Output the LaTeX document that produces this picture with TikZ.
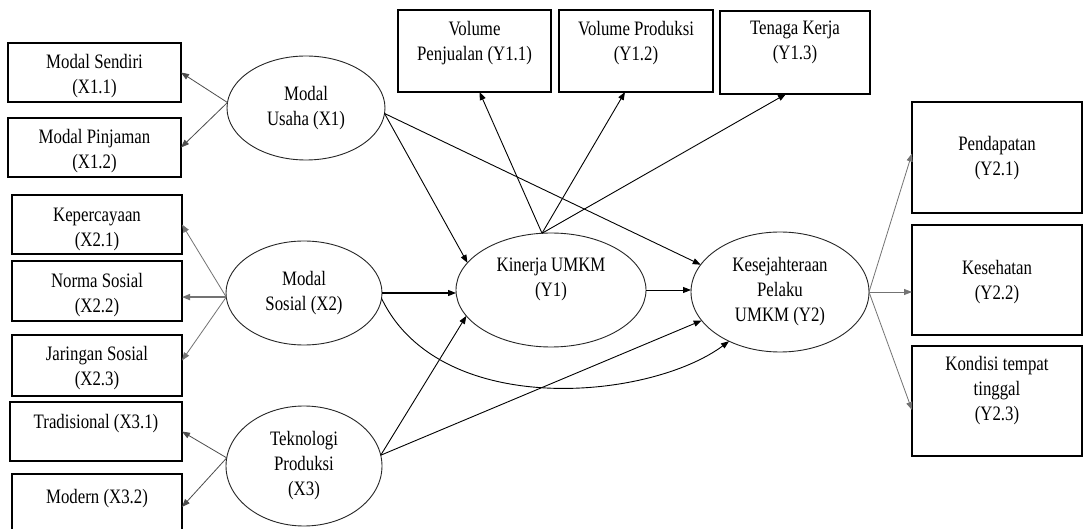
\documentclass[tikz,border=0pt]{standalone}
\usepackage{fontspec}
\setmainfont[FakeStretch=0.82]{Liberation Serif}
\usetikzlibrary{arrows.meta,shapes.geometric}
\newcommand\fsz{\fontsize{20.5}{25}\selectfont}
\newcommand\bxt[4]{\parbox[c][#1pt][t]{#2pt}{\centering\vspace*{#3pt}#4\par}}
\begin{document}
\begin{tikzpicture}[x=1pt,y=-1pt,
  ibox/.style={draw=black, line width=1.3pt, inner sep=0pt, outer sep=0pt, font=\fsz},
  lat/.style={ellipse, draw=black!85, line width=0.9pt, inner sep=0pt, outer sep=0pt, align=center, font=\fsz},
  pth/.style={-{Triangle[length=8pt,width=6pt]}, line width=0.9pt, black},
  ind/.style={-{Triangle[length=8pt,width=6pt]}, line width=0.8pt, black!70},
  indg/.style={-{Triangle[length=8pt,width=6pt]}, line width=0.8pt, black!55}]
\clip (0,0) rectangle (1088,529);
\fill[white] (0,0) rectangle (1088,529);
% indicator boxes
\node[ibox] (MS) at (94.5,72.5) {\bxt{59}{173}{11}{Modal Sendiri\\(X1.1)}};
\node[ibox] (MP) at (94.5,147.5) {\bxt{59}{173}{11}{Modal Pinjaman\\(X1.2)}};
\node[ibox] (KP) at (97,224.5) {\bxt{59}{170}{13}{Kepercayaan\\(X2.1)}};
\node[ibox] (NS) at (97,291) {\bxt{60}{170}{12}{Norma Sosial\\(X2.2)}};
\node[ibox] (JS) at (97,365.5) {\bxt{61}{170}{11}{Jaringan Sosial\\(X2.3)}};
\node[ibox] (TR) at (96,431.5) {\bxt{59}{172}{12}{Tradisional (X3.1)}};
\node[ibox] (MD) at (97,507) {\bxt{66}{170}{15}{Modern (X3.2)}};
\node[ibox] (VPj) at (474.5,51) {\bxt{82}{153}{11}{Volume\\Penjualan (Y1.1)}};
\node[ibox] (VPr) at (636,51) {\bxt{82}{154}{11}{Volume Produksi\\(Y1.2)}};
\node[ibox] (TK) at (795,52.5) {\bxt{83}{150}{10}{Tenaga Kerja\\(Y1.3)}};
\node[ibox] (PD) at (997,157.5) {\bxt{111}{170}{34}{Pendapatan\\(Y2.1)}};
\node[ibox] (KS) at (997,280) {\bxt{110}{170}{35}{Kesehatan\\(Y2.2)}};
\node[ibox] (KT) at (997,401) {\bxt{110}{170}{10}{Kondisi tempat\\tinggal\\(Y2.3)}};
% latent variables
\node[lat, minimum width=158pt, minimum height=104pt] (X1) at (306,108) {Modal\\Usaha (X1)};
\node[lat, minimum width=156pt, minimum height=104pt] (X2) at (304,293) {Modal\\Sosial (X2)};
\node[lat, minimum width=156pt, minimum height=120pt] (X3) at (304,466) {Teknologi\\Produksi\\(X3)};
\node[lat, minimum width=190pt, minimum height=114pt] (Y1) at (551,290) {Kinerja UMKM\\(Y1)\\~};
\node[lat, minimum width=178pt, minimum height=120pt] (Y2) at (780,292) {Kesejahteraan\\Pelaku\\UMKM (Y2)};
% indicator arrows
\draw[ind] (X1.176) -- (MS.east);
\draw[ind] (X1.176) -- (MP.east);
\draw[indg] (X2.183) -- (KP.east);
\draw[indg, line width=1.6pt] (X2.183) -- (X2.183 -| NS.east);
\draw[indg] (X2.183) -- ([yshift=5pt]JS.east);
\draw[ind] (X3.174) -- (TR.east);
\draw[ind] (X3.174) -- (MD.east);
% structural paths
\draw[pth] (X1.-4) -- (Y1.162);
\draw[pth] (X1.-4) -- (Y2.161);
\draw[pth, line width=1.3pt] (X2.east) -- (X2.east -| Y1.west);
\draw[pth] (X2.-4) .. controls (440,420) and (650,400) .. (Y2.224);
\draw[pth] (X3.8) -- (Y1.197);
\draw[pth] (X3.8) -- (Y2.200);
\draw[pth] (Y1.east) -- (Y1.east -| Y2.west);
\draw[pth] (Y1.99) -- ([xshift=5pt]VPj.south);
\draw[pth] (Y1.99) -- ([xshift=-11pt]VPr.south);
\draw[pth] (Y1.99) -- ([xshift=-9pt]TK.south);
\draw[indg] (Y2.east) -- ([yshift=4pt]PD.west);
\draw[indg] (Y2.east) -- (Y2.east -| KS.west);
\draw[indg] (Y2.east) -- ([yshift=-9pt]KT.west);
\end{tikzpicture}
\end{document}
